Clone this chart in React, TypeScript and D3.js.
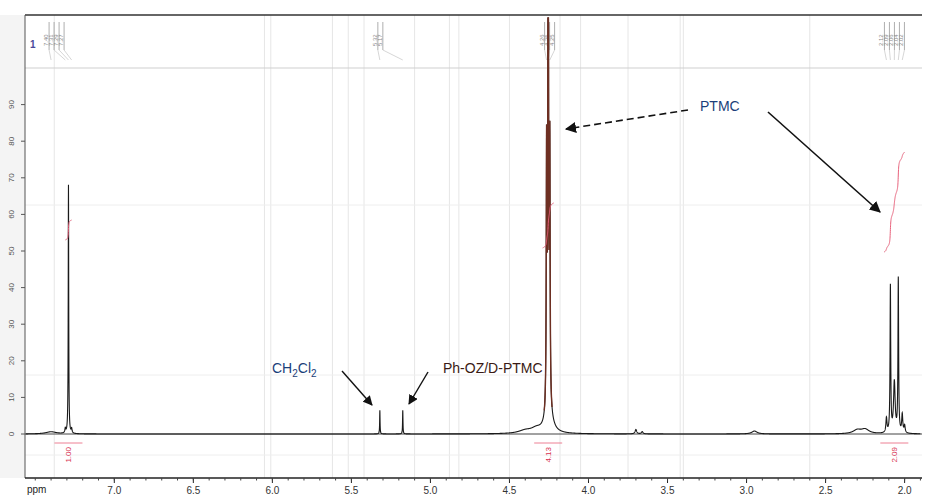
import React from "react";
import * as d3 from "d3";

// Peak list (ppm, relative height, half-width in ppm)
const peakPpm = [7.29, 7.31, 7.27, 7.4, 5.32, 5.175, 4.265, 4.255, 4.245, 4.25, 4.4, 4.33, 3.7, 3.66, 2.95, 2.3, 2.25, 2.115, 2.09, 2.065, 2.04, 2.015, 2.0];
const peakHeight = [68, 1.2, 1.2, 0.6, 6.5, 6.5, 70, 160, 70, 5, 0.8, 1.2, 1.2, 0.6, 0.8, 1.0, 1.2, 4, 40, 14, 42, 5, 2];
const peakWidth = [0.0018, 0.003, 0.003, 0.04, 0.0015, 0.0015, 0.0025, 0.0025, 0.0025, 0.025, 0.05, 0.04, 0.006, 0.006, 0.02, 0.03, 0.03, 0.004, 0.0025, 0.006, 0.0025, 0.004, 0.004];

const xTicks = [7.0, 6.5, 6.0, 5.5, 5.0, 4.5, 4.0, 3.5, 3.0, 2.5, 2.0];
const yTicks = [0, 10, 20, 30, 40, 50, 60, 70, 80, 90];
const gridPpm = [7.38, 6.05, 6.01, 5.62, 5.52, 5.42, 5.1, 4.88, 4.82, 4.5, 4.18, 4.05, 3.75, 3.42, 3.4, 2.6];
const integralLabels = [
  { ppm: 7.29, text: "1.00" },
  { ppm: 4.255, text: "4.13" },
  { ppm: 2.065, text: "2.09" },
];
const topLabelGroups = [
  [7.40, 7.31, 7.29, 7.27],
  [5.32, 5.175],
  [4.265, 4.255, 4.245],
  [2.115, 2.09, 2.065, 2.04, 2.015],
];

const W = 926, H = 497;
const left = 25, right = 922, top = 15, sep = 68, base = 434, axisY = 478;

export default function App() {
  const x = d3.scaleLinear().domain([7.565, 1.89]).range([left, right]);
  const y = d3.scaleLinear().domain([0, 100]).range([base, sep]);

  const ppmGrid = d3.range(7.56, 1.9, -0.0005);
  const intensity = (p: number) => {
    let s = 0;
    for (let i = 0; i < peakPpm.length; i++) {
      const d = (p - peakPpm[i]) / peakWidth[i];
      s += peakHeight[i] / (1 + d * d);
    }
    return s;
  };
  const pts: [number, number][] = ppmGrid.map((p) => [p, intensity(p)]);
  const line = d3
    .line<[number, number]>()
    .x((d) => x(d[0]))
    .y((d) => Math.max(top + 3, y(d[1])));
  const tallPts = pts.filter((d) => d[0] < 4.28 && d[0] > 4.23);

  const integralPath = (from: number, to: number, y0: number, span: number) => {
    const seg = pts.filter((d) => d[0] <= from && d[0] >= to);
    let c = 0;
    const cum = seg.map((d) => {
      c += d[1];
      return [d[0], c] as [number, number];
    });
    const total = c || 1;
    return d3
      .line<[number, number]>()
      .x((d) => x(d[0]))
      .y((d) => y0 - (d[1] / total) * span)(cum);
  };

  return (
    <svg width={W} height={H} style={{ display: "block", position: "absolute", left: 0, top: 0, background: "#fff", fontFamily: "Liberation Sans, Arial, sans-serif" }}>
      <rect x={0} y={0} width={W} height={H} fill="#fff" />
      {gridPpm.map((p, i) => (
        <line key={i} x1={x(p)} x2={x(p)} y1={top} y2={axisY} stroke="#e6e6e6" strokeWidth={1} />
      ))}
      {[sep, 205, 375, 455].map((v, i) => (
        <line key={i} x1={left} x2={right} y1={v} y2={v} stroke={i === 0 ? "#cfcfcf" : "#eeeeee"} strokeWidth={1} />
      ))}
      <rect x={0} y={top} width={left} height={axisY - top} fill="#f4f4f4" />
      <line x1={left} x2={right} y1={top} y2={top} stroke="#333" strokeWidth={1.5} />
      <line x1={left} x2={left} y1={top} y2={axisY} stroke="#555" strokeWidth={1} />
      <line x1={left} x2={right} y1={axisY} y2={axisY} stroke="#222" strokeWidth={1.5} />
      <line x1={left} x2={right} y1={base} y2={base} stroke="#444" strokeWidth={1} />
      {yTicks.map((t) => (
        <g key={t}>
          <line x1={left - 4} x2={left} y1={y(t)} y2={y(t)} stroke="#555" />
          <text x={14} y={y(t)} fontSize={8} fill="#555" textAnchor="middle" transform={`rotate(-90 14 ${y(t)})`}>
            {t}
          </text>
        </g>
      ))}
      {topLabelGroups.map((g, gi) =>
        g.map((p, i) => {
          const lx = x(g[0]) + i * 5 - 2;
          return (
            <g key={`${gi}-${i}`}>
              <line x1={lx} x2={lx} y1={22} y2={50} stroke="#999" strokeWidth={0.8} />
              <line x1={lx} x2={x(p)} y1={50} y2={60} stroke="#bbb" strokeWidth={0.6} />
              <text x={lx - 1} y={46} fontSize={6} fill="#888" transform={`rotate(-90 ${lx - 1} 46)`}>
                {p.toFixed(2)}
              </text>
            </g>
          );
        })
      )}
      <text x={30} y={48} fontSize={10} fill="#4a4a9a" fontWeight="bold">1</text>
      <path d={line(pts) || ""} fill="none" stroke="#1a1a1a" strokeWidth={1.1} />
      <path d={line(tallPts) || ""} fill="none" stroke="#6e2f22" strokeWidth={1.4} />
      <path d={integralPath(7.31, 7.27, 240, 20) || ""} fill="none" stroke="#e8607a" strokeWidth={1} />
      <path d={integralPath(4.29, 4.22, 248, 45) || ""} fill="none" stroke="#e8607a" strokeWidth={1} />
      <path d={integralPath(2.13, 2.0, 252, 100) || ""} fill="none" stroke="#e8607a" strokeWidth={1} />
      {integralLabels.map((l, i) => (
        <g key={i}>
          <line x1={x(l.ppm) - 14} x2={x(l.ppm) + 14} y1={443} y2={443} stroke="#e8607a" strokeWidth={0.8} />
          <text x={x(l.ppm) + 3} y={447} fontSize={8} fill="#d83050" transform={`rotate(-90 ${x(l.ppm) + 3} 447)`} textAnchor="end">
            {l.text}
          </text>
        </g>
      ))}
      {xTicks.map((t) => (
        <g key={t}>
          <line x1={x(t)} x2={x(t)} y1={axisY} y2={axisY + 5} stroke="#222" />
          <text x={x(t)} y={494} fontSize={10} fill="#333" textAnchor="middle">
            {t.toFixed(1)}
          </text>
        </g>
      ))}
      {d3.range(7.5, 1.89, -0.1).map((t, i) => (
        <line key={i} x1={x(t)} x2={x(t)} y1={axisY} y2={axisY + 2.5} stroke="#444" />
      ))}
      <text x={27} y={493} fontSize={10} fill="#222">ppm</text>
      <defs>
        <marker id="ah" viewBox="0 0 10 10" refX={9} refY={5} markerWidth={7} markerHeight={7} orient="auto">
          <path d="M0,0 L10,5 L0,10 z" fill="#111" />
        </marker>
      </defs>
      <text x={272} y={373} fontSize={14} fill="#1b3f7a">
        CH<tspan fontSize={10} dy={4}>2</tspan><tspan dy={-4}>Cl</tspan><tspan fontSize={10} dy={4}>2</tspan>
      </text>
      <line x1={342} y1={371} x2={372} y2={405} stroke="#111" strokeWidth={1.4} markerEnd="url(#ah)" />
      <text x={443} y={373} fontSize={14} fill="#3a1a14">Ph-OZ/D-PTMC</text>
      <line x1={428} y1={372} x2={409} y2={404} stroke="#111" strokeWidth={1.4} markerEnd="url(#ah)" />
      <text x={700} y={111} fontSize={14} fill="#1b3f7a">PTMC</text>
      <line x1={688} y1={110} x2={566} y2={129} stroke="#111" strokeWidth={1.6} strokeDasharray="7,4" markerEnd="url(#ah)" />
      <line x1={768} y1={112} x2={880} y2={212} stroke="#111" strokeWidth={1.6} markerEnd="url(#ah)" />
    </svg>
  );
}
